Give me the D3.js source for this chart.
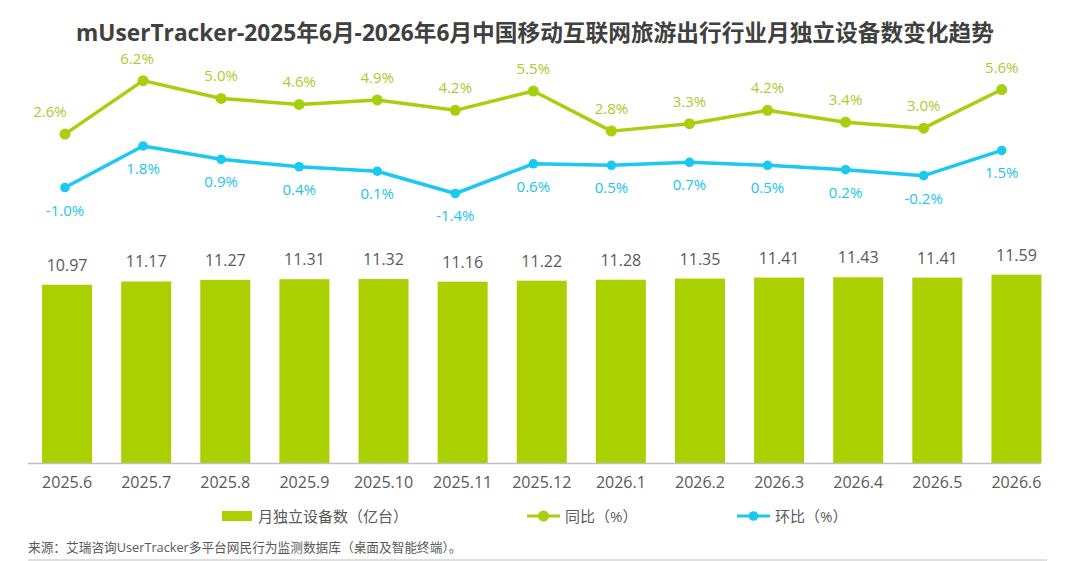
<!DOCTYPE html>
<html lang="zh">
  <head>
    <meta charset="utf-8">
    <title>mUserTracker 旅游出行</title>
    <script src="https://cdn.jsdelivr.net/npm/d3@7"></script>
    <style type="text/css">
      body { margin: 0; background: #fff; }
      svg text { font-family: "Open Sans", "Noto Sans CJK SC", sans-serif; }
      .title { font-size: 22.7px; font-weight: bold; fill: #404040; }
      .lbl { font-size: 16px; fill: #595959; }
      .pct { font-size: 15px; }
      .legend text { font-size: 15px; fill: #595959; }
      .source { font-size: 12.7px; fill: #595959; }
    </style>
  </head>
  <body>
    <svg width="1080" height="561"></svg>
    <script type="text/javascript">
      // data
      var months = ["2025.6","2025.7","2025.8","2025.9","2025.10","2025.11","2025.12",
                    "2026.1","2026.2","2026.3","2026.4","2026.5","2026.6"];
      var devices = [10.97, 11.17, 11.27, 11.31, 11.32, 11.16, 11.22, 11.28, 11.35, 11.41, 11.43, 11.41, 11.59];
      var yoy = [2.6, 6.2, 5.0, 4.6, 4.9, 4.2, 5.5, 2.8, 3.3, 4.2, 3.4, 3.0, 5.6];
      var mom = [-1.0, 1.8, 0.9, 0.4, 0.1, -1.4, 0.6, 0.5, 0.7, 0.5, 0.2, -0.2, 1.5];

      var green = "#aad000", lineGreen = "#a8cf0e", blue = "#1bc8f2";
      var greenText = "#a9cc2c", blueText = "#22c3ee";

      var svg = d3.select("svg"),
          width = +svg.attr("width"),
          height = +svg.attr("height");

      svg.append("text")
        .attr("class", "title")
        .attr("x", 535)
        .attr("y", 41)
        .attr("text-anchor", "middle")
        .text("mUserTracker-2025年6月-2026年6月中国移动互联网旅游出行行业月独立设备数变化趋势");

      // bars
      var x = d3.scaleBand()
        .domain(months)
        .range([27.5, 1056])
        .paddingInner(0.368)
        .paddingOuter(0.184);

      var baseY = 463;
      var y = d3.scaleLinear()
        .domain([0, 14])
        .range([baseY, baseY - 14 * 16.25]);

      svg.append("g")
        .selectAll("rect")
        .data(devices)
        .enter().append("rect")
          .attr("x", function(d, i) { return x(months[i]); })
          .attr("y", function(d) { return y(d); })
          .attr("width", x.bandwidth())
          .attr("height", function(d) { return baseY - y(d); })
          .attr("fill", green);

      svg.append("g")
        .selectAll("text")
        .data(devices)
        .enter().append("text")
          .attr("class", "lbl")
          .attr("x", function(d, i) { return x(months[i]) + x.bandwidth() / 2; })
          .attr("y", function(d) { return y(d) - 14; })
          .attr("text-anchor", "middle")
          .text(function(d) { return d.toFixed(2); });

      var xAxis = svg.append("g")
        .attr("transform", "translate(0," + baseY + ")")
        .call(d3.axisBottom(x).tickSize(0).tickPadding(14));
      xAxis.select(".domain").remove();
      xAxis.selectAll("text")
        .attr("class", "lbl")
        .style("font-size", "16px")
        .attr("fill", "#595959");

      svg.append("line")
        .attr("x1", 28).attr("x2", 1041)
        .attr("y1", baseY + 0.5).attr("y2", baseY + 0.5)
        .attr("stroke", "#bfbfbf")
        .attr("stroke-width", 1.5);

      // lines
      var xp = d3.scalePoint()
        .domain(months)
        .range([65, 1001.7]);

      var yp = d3.scaleLinear()
        .domain([-3, 8])
        .range([172.7 + 3 * 14.85, 172.7 - 8 * 14.85]);

      var line = d3.line()
        .x(function(d, i) { return xp(months[i]); })
        .y(function(d) { return yp(d); });

      function drawSeries(vals, col, txtCol, r, above) {
        svg.append("path")
          .datum(vals)
          .attr("d", line)
          .attr("fill", "none")
          .attr("stroke", col)
          .attr("stroke-width", 3.5)
          .attr("stroke-linejoin", "round");

        svg.append("g")
          .selectAll("circle")
          .data(vals)
          .enter().append("circle")
            .attr("cx", function(d, i) { return xp(months[i]); })
            .attr("cy", function(d) { return yp(d); })
            .attr("r", r)
            .attr("fill", col);

        svg.append("g")
          .selectAll("text")
          .data(vals)
          .enter().append("text")
            .attr("class", "pct")
            .attr("fill", txtCol)
            .attr("x", function(d, i) {
              var dx = 0;
              if (above && i == 0) dx = -15;
              if (above && i == 1) dx = -6;
              return xp(months[i]) + dx;
            })
            .attr("y", function(d) { return above ? yp(d) - 17 : yp(d) + 28; })
            .attr("text-anchor", "middle")
            .text(function(d) { return d.toFixed(1) + "%"; });
      }

      drawSeries(yoy, lineGreen, greenText, 5.5, true);
      drawSeries(mom, blue, blueText, 4.8, false);

      // legend
      var ly = 516;
      var legend = svg.append("g").attr("class", "legend");

      legend.append("rect")
        .attr("x", 222).attr("y", ly - 5)
        .attr("width", 30).attr("height", 10)
        .attr("fill", green);
      legend.append("text")
        .attr("x", 258).attr("y", ly + 5.5)
        .text("月独立设备数（亿台）");

      var lineKeys = [
        {name: "同比（%）", col: lineGreen, x0: 527, r: 5.5},
        {name: "环比（%）", col: blue, x0: 737, r: 4.8}
      ];
      lineKeys.forEach(function(k) {
        legend.append("line")
          .attr("x1", k.x0).attr("x2", k.x0 + 33)
          .attr("y1", ly).attr("y2", ly)
          .attr("stroke", k.col)
          .attr("stroke-width", 3);
        legend.append("circle")
          .attr("cx", k.x0 + 16.5).attr("cy", ly)
          .attr("r", k.r)
          .attr("fill", k.col);
        legend.append("text")
          .attr("x", k.x0 + 38).attr("y", ly + 5.5)
          .text(k.name);
      });

      // source
      svg.append("text")
        .attr("class", "source")
        .attr("x", 28)
        .attr("y", 552)
        .text("来源：艾瑞咨询UserTracker多平台网民行为监测数据库（桌面及智能终端）。");

      svg.append("line")
        .attr("x1", 28).attr("x2", 1047)
        .attr("y1", 560).attr("y2", 560)
        .attr("stroke", "#bfbfbf")
        .attr("stroke-width", 1);
    </script>
  </body>
</html>
